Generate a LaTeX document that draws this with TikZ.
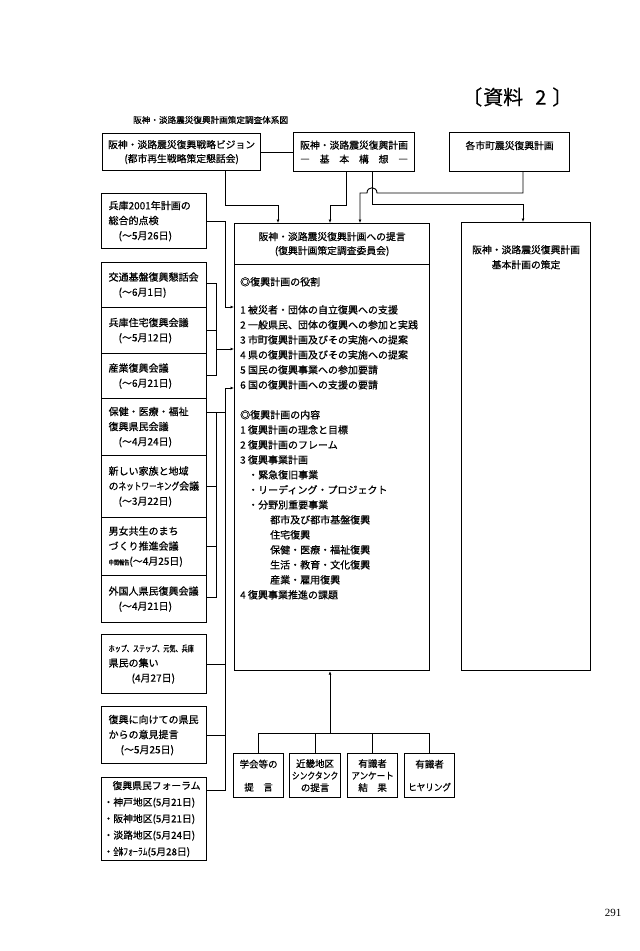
\documentclass[tikz,border=0pt]{standalone}
\usepackage{fontspec}
\usepackage{graphicx}
\newfontfamily\jp[FakeBold=0.6]{Noto Sans CJK JP}
\newfontfamily\pagefont{Liberation Serif}
\usetikzlibrary{positioning,arrows.meta}
\newcommand\narrow[2][0.6]{\scalebox{#1}[1]{#2}}

\tikzset{
  box/.style={draw, line width=1.2pt, inner sep=0pt},
  lbox/.style={box, anchor=north west, text width=91pt, inner xsep=7pt, align=left,
    font=\jp\fontsize{10}{15}\selectfont},
  cbox/.style={box, anchor=north west, align=center, font=\jp\fontsize{9.8}{14}\selectfont},
  conn/.style={line width=0.9pt},
  flow/.style={conn, -{Latex[length=3.5pt,width=3pt]}}
}

\begin{document}
\begin{tikzpicture}[x=1pt, y=-1pt]
\useasboundingbox (0,0) rectangle (640,951);

% heading
\node[font=\jp\fontsize{20}{20}\selectfont, anchor=west, inner sep=0pt] (docmark) at (462,97) {〔\hspace{1pt}資料\hspace{12pt}2\hspace{6pt}〕};
\node[font=\jp\fontsize{8.6}{10}\selectfont, anchor=west, inner sep=0pt] (title) at (133,120) {阪神・淡路震災復興計画策定調査体系図};

% top row
\node[cbox, minimum width=158pt, minimum height=37pt] (vision) at (102,133) {阪神・淡路震災復興戦略ビジョン\\(都市再生戦略策定懇話会)};
\node[cbox, minimum width=121pt, minimum height=39pt] (concept) at (293,132) {阪神・淡路震災復興計画\\\makebox[108pt]{―\hfill 基\hfill 本\hfill 構\hfill 想\hfill ―}};
\node[cbox, minimum width=120pt, minimum height=39pt] (towns) at (449,132) {各市町震災復興計画\\\mbox{}};

% proposal
\node[cbox, minimum width=195pt, minimum height=41pt] (planhead) at (234,223) {阪神・淡路震災復興計画への提言\\(復興計画策定調査委員会)};
\node[box, anchor=north west, minimum width=195pt, minimum height=406pt] (planbody) at (234,264) {};
\node[anchor=north west, inner sep=0pt, align=left, font=\jp\fontsize{10}{15}\selectfont] (planlist) at (240,277) {%
◎復興計画の役割\\[13pt]
1 被災者・団体の自立復興への支援\\
2 一般県民、団体の復興への参加と実践\\
3 市町復興計画及びその実施への提案\\
4 県の復興計画及びその実施への提案\\
5 国民の復興事業への参加要請\\
6 国の復興計画への支援の要請\\[15pt]
◎復興計画の内容\\
1 復興計画の理念と目標\\
2 復興計画のフレーム\\
3 復興事業計画\\
\hspace*{8pt}・緊急復旧事業\\
\hspace*{8pt}・リーディング・プロジェクト\\
\hspace*{8pt}・分野別重要事業\\
\hspace*{30pt}都市及び都市基盤復興\\
\hspace*{30pt}住宅復興\\
\hspace*{30pt}保健・医療・福祉復興\\
\hspace*{30pt}生活・教育・文化復興\\
\hspace*{30pt}産業・雇用復興\\
4 復興事業推進の課題};

% basic plan
\node[box, anchor=north west, minimum width=129pt, minimum height=448pt] (basic) at (461,222) {};
\node[anchor=north, inner sep=0pt, align=center, font=\jp\fontsize{9.8}{15}\selectfont] (basictext) at (basic.north |- 0,245) {阪神・淡路震災復興計画\\基本計画の策定};

% left column
\node[lbox, minimum height=55pt] (review) at (101,193) {兵庫2001年計画の\\総合的点検\\\hspace*{1em}(〜5月26日)};
\node[lbox, minimum height=45pt] (traffic) at (101,262) {交通基盤復興懇話会\\\hspace*{1em}(〜6月1日)};
\node[lbox, minimum height=46pt] (housing) at (101,307) {兵庫住宅復興会議\\\hspace*{1em}(〜5月12日)};
\node[lbox, minimum height=45pt] (industry) at (101,353) {産業復興会議\\\hspace*{1em}(〜6月21日)};
\node[lbox, minimum height=57pt] (health) at (101,398) {保健・医療・福祉\\復興県民会議\\\hspace*{1em}(〜4月24日)};
\node[lbox, minimum height=62pt] (family) at (101,455) {新しい家族と地域\\の\narrow[0.76]{ネットワーキング}会議\\\hspace*{1em}(〜3月22日)};
\node[lbox, minimum height=58pt] (gender) at (101,517) {男女共生のまち\\づくり推進会議\\{\fontsize{6.5}{6.5}\selectfont\narrow[0.8]{中間報告}}(〜4月25日)};
\node[lbox, minimum height=47pt] (foreign) at (101,575) {外国人県民復興会議\\\hspace*{1em}(〜4月21日)};
\node[lbox, minimum height=59pt] (hop) at (101,634) {{\fontsize{8.5}{8.5}\selectfont\narrow[0.72]{ホップ、ステップ、元気、兵庫}}\\県民の集い\\\hspace*{2.3em}(4月27日)};
\node[lbox, minimum height=57pt] (opinion) at (101,706) {復興に向けての県民\\からの意見提言\\\hspace*{1.2em}(〜5月25日)};
\node[lbox, minimum height=83pt, inner xsep=2pt, text width=101pt, font=\jp\fontsize{9.8}{16.5}\selectfont] (forum) at (101,777) {\hspace*{9pt}復興県民フォーラム\\・神戸地区(5月21日)\\・阪神地区(5月21日)\\・淡路地区(5月24日)\\・{\narrow[0.5]{全体フォーラム}}(5月28日)};

% bottom row
\node[cbox, minimum width=50pt, minimum height=44pt, font=\jp\fontsize{9.5}{14}\selectfont] (society) at (233,753) {学会等の\\[9pt]提\quad 言};
\node[cbox, minimum width=51pt, minimum height=44pt, font=\jp\fontsize{9.5}{12}\selectfont] (thinktank) at (289,753) {近畿地区\\\narrow[0.82]{シンクタンク}\\の提言};
\node[cbox, minimum width=50pt, minimum height=44pt, font=\jp\fontsize{9.5}{12}\selectfont] (survey) at (347,753) {有識者\\\narrow[0.9]{アンケート}\\結\quad 果};
\node[cbox, minimum width=50pt, minimum height=44pt, font=\jp\fontsize{9.5}{14}\selectfont] (hearing) at (404,753) {有識者\\[9pt]\narrow[0.9]{ヒヤリング}};

\node[font=\pagefont\fontsize{11}{11}\selectfont] (pagenum) at (613,913) {291};

% bus points
\coordinate (busone) at (216,349);
\coordinate (bustwo) at (216,412);
\coordinate (busfoot) at (330,733);

% top connectors
\draw[conn] (vision.east) -- (concept.west);
\draw[flow] (vision.south -| 225,0) |- (278,205) -- (planhead.north -| 278,0);
\draw[flow] (concept.south -| 346,0) |- (330,205) -- (planhead.north -| 330,0);
\draw[flow] (concept.south -| 372,0) |- (523,204) -- (basic.north -| 523,0);
\draw[flow] (towns.south -| 523,0) |- (377,193) .. controls (377,186) and (367,186) .. (367,193) -| (planhead.north -| 360,0);

% left connectors
\draw[flow] (review.east) -| (225,307) -- (planbody.west |- 0,307);
\draw[conn] (traffic.east |- 0,283) -| (216,375) -- (industry.east |- 0,375);
\draw[conn] (housing.east) -- (housing.east -| busone);
\draw[flow] (busone) -- (planbody.west |- busone);
\draw[conn] (health.east |- bustwo) -- (bustwo -| 225,0);
\draw[conn] (bustwo) |- (foreign.east |- 0,597);
\draw[conn] (family.east) -- (family.east -| bustwo);
\draw[conn] (gender.east) -- (gender.east -| bustwo);
\draw[flow] (forum.east |- 0,790) -| (225,388) -- (planbody.west |- 0,388);
\draw[conn] (hop.east) -- (hop.east -| 225,0);
\draw[conn] (opinion.east) -- (opinion.east -| 225,0);

% bottom connectors
\draw[flow] (busfoot) -- (planbody.south -| busfoot);
\draw[conn] (society.north |- busfoot) -- (hearing.north |- busfoot);
\foreach \src in {society,thinktank,survey,hearing}
  \draw[conn] (\src.north) -- (\src.north |- busfoot);

\end{tikzpicture}
\end{document}
